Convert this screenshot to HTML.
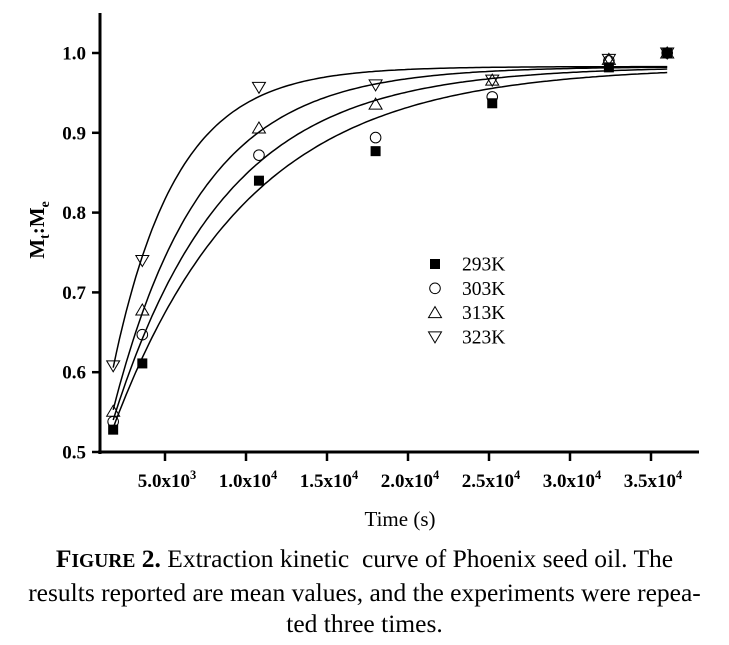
<!DOCTYPE html>
<html><head><meta charset="utf-8"><style>
body{margin:0;background:#fff;width:729px;height:645px;overflow:hidden;font-family:"Liberation Serif",serif}
svg text{font-family:"Liberation Serif",serif}
.cap{position:absolute;left:0;width:729px;text-align:center;font-size:25.5px;line-height:31px;color:#000;white-space:nowrap}
</style></head><body>
<svg width="729" height="545" style="position:absolute;left:0;top:0" id="chart"></svg>
<div class="cap" style="top:543px"><b>F<span style="font-size:19.5px">IGURE</span> 2.</b> Extraction kinetic &nbsp;curve of Phoenix seed oil. The<br>results reported are mean values, and the experiments were repea-<br>ted three times.</div>
<script>
const xs=[1800,3600,10800,18000,25200,32400,36000];
const s293=[0.528,0.611,0.840,0.877,0.937,0.982,1.0];
const s303=[0.538,0.647,0.872,0.894,0.945,0.990,1.0];
const s313=[0.551,0.678,0.906,0.936,0.966,0.992,1.0];
const s323=[0.608,0.740,0.957,0.960,0.966,0.992,1.0];
const seriesNames=["293K","303K","313K","323K"];
const fitA=[0.983,0.983,0.983,0.983];
const fitB=[0.562,0.575,0.599,0.598];
const fitK=[1.2e-4,1.45e-4,1.84e-4,2.56e-4];
const xTicks=[5000,10000,15000,20000,25000,30000,35000];
const xTickLabels=["5.0x10","1.0x10","1.5x10","2.0x10","2.5x10","3.0x10","3.5x10"];
const xTickExp=["3","4","4","4","4","4","4"];
const yTicks=[0.5,0.6,0.7,0.8,0.9,1.0];
const yTickLabels=["0.5","0.6","0.7","0.8","0.9","1.0"];
const NS="http://www.w3.org/2000/svg";
const svg=document.getElementById('chart');
const X=v=>84+v*81/5000, Y=v=>452-(v-0.5)*798;
function mk(t,a,p){const e=document.createElementNS(NS,t);for(const k in a)e.setAttribute(k,a[k]);(p||svg).appendChild(e);return e;}
let e;
e=mk('line',{x1:100,y1:13,x2:100,y2:454,stroke:'#000','stroke-width':3});


e=mk('line',{x1:98,y1:452,x2:699,y2:452,stroke:'#000','stroke-width':3});


yTicks.forEach((v,i)=>{
 e=mk('line',{x1:92,y1:Y(v),x2:100,y2:Y(v),stroke:'#000','stroke-width':2.5});
 
 
 e=mk('text',{x:86,y:Y(v)+6.5,'text-anchor':'end','font-size':19,'font-weight':'bold'});
 e.textContent=yTickLabels[i];
 
 
});
xTicks.forEach((v,i)=>{
 e=mk('line',{x1:X(v),y1:452,x2:X(v),y2:461,stroke:'#000','stroke-width':2.5});
 
 
 e=mk('text',{x:X(v)+2,y:487,'text-anchor':'middle','font-size':19,'font-weight':'bold'});
 e.textContent=xTickLabels[i];
 const t=mk('tspan',{dy:-8,'font-size':12.5},e);t.textContent=xTickExp[i];
 
 
});
e=mk('text',{x:400,y:526,'text-anchor':'middle','font-size':21});
e.textContent='Time (s)';


e=mk('text',{x:0,y:0,'text-anchor':'middle','font-size':21,'font-weight':'bold',transform:'translate(44,230) rotate(-90)'});
e.innerHTML='M<tspan dy="5" font-size="14">t</tspan><tspan dy="-5">:M</tspan><tspan dy="5" font-size="14">e</tspan>';


for(let i=0;i<4;i++){
 let d='';
 for(let t=1800;t<=36000;t+=200){const v=fitA[i]-fitB[i]*Math.exp(-fitK[i]*t);d+=(d?'L':'M')+X(t).toFixed(1)+','+Y(v).toFixed(1);}
 e=mk('path',{d:d,fill:'none',stroke:'#000','stroke-width':1.5});
 
 
}
function marker(type,cx,cy){
 if(type===0)return mk('rect',{x:cx-5,y:cy-5,width:10,height:10,fill:'#000'});
 if(type===1)return mk('circle',{cx:cx,cy:cy,r:5.3,fill:'none',stroke:'#000','stroke-width':1});
 if(type===2)return mk('path',{d:`M${cx},${cy-6}L${cx+6.5},${cy+5}L${cx-6.5},${cy+5}Z`,fill:'none',stroke:'#000','stroke-width':1});
 return mk('path',{d:`M${cx},${cy+6}L${cx+6.5},${cy-5}L${cx-6.5},${cy-5}Z`,fill:'none',stroke:'#000','stroke-width':1});
}
[s293,s303,s313,s323].forEach((s,i)=>{
 s.forEach((v,j)=>{
  e=marker(i,X(xs[j]),Y(v));
  
  
 });
});
seriesNames.forEach((n,i)=>{
 const y=264+i*24.3;
 e=marker(i,435,y);
 
 
 e=mk('text',{x:462,y:y+6.5,'font-size':19.5});
 e.textContent=n;
 
 
});
</script>
</body></html>
